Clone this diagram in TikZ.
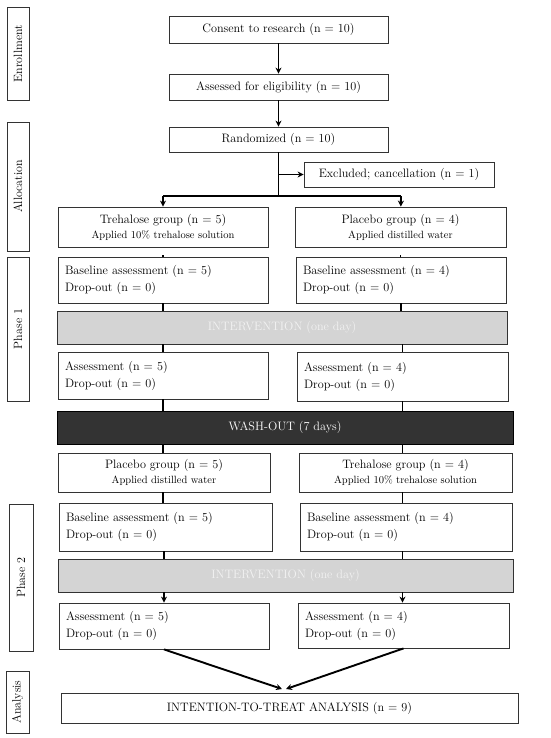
\documentclass[tikz,border=0pt]{standalone}
\usetikzlibrary{arrows.meta,calc}
\begin{document}
\begin{tikzpicture}[x=1pt,y=-1pt,
  box/.style={draw=black!80,line width=0.8pt,inner sep=0pt,font=\fontsize{12.2}{17}\selectfont},
  twoline/.style={box,align=left,inner xsep=7pt,text width=#1},
  grp/.style={box,align=center},
  small/.style={},
  band/.style={draw=black!80,line width=0.9pt,fill=black!17,text=black!5,font=\fontsize{12.2}{14}\selectfont},
  dark/.style={draw=black,line width=0.9pt,fill=black!80,text=white,font=\fontsize{12.2}{14}\selectfont},
  lab/.style={draw=black!80,line width=0.8pt,rotate=90,inner sep=0pt,font=\fontsize{12}{13}\selectfont},
  conn/.style={line width=1.9pt},
  arr/.style={conn,-{Stealth[length=6pt,width=6pt]}}]
\useasboundingbox (0,0) rectangle (550,738);
% stage labels
\node[lab,minimum width=93pt,minimum height=22pt] (lenr) at (18,53.5) {Enrollment};
\node[lab,minimum width=129pt,minimum height=22pt] (lall) at (18,186.5) {Allocation};
\node[lab,minimum width=144pt,minimum height=22pt] (lph1) at (18,329) {Phase 1};
\node[lab,minimum width=147pt,minimum height=24pt] (lph2) at (21,577.5) {Phase 2};
\node[lab,minimum width=62pt,minimum height=23pt] (lana) at (17.5,702) {Analysis};
% enrollment / allocation
\node[box,minimum width=219pt,minimum height=27pt] (cons) at (278.5,29.5) {Consent to research (n = 10)};
\node[box,minimum width=219pt,minimum height=26pt] (elig) at (278.5,87) {Assessed for eligibility (n = 10)};
\node[box,minimum width=219pt,minimum height=25pt] (rand) at (278.5,139.5) {Randomized (n = 10)};
\node[box,minimum width=190pt,minimum height=25pt] (excl) at (399,174.5) {Excluded; cancellation (n = 1)};
\node[grp,minimum width=210pt,minimum height=40pt] (tg1) at (163,227) {Trehalose group (n = 5)\\[-2pt]{\fontsize{10.5}{11}\selectfont Applied 10\% trehalose solution}};
\node[grp,minimum width=211pt,minimum height=40pt] (pg1) at (400.5,227) {Placebo group (n = 4)\\[-2pt]{\fontsize{10.5}{11}\selectfont Applied distilled water}};
% phase 1
\node[twoline=196pt,minimum height=46pt] (b1l) at (163,280) {Baseline assessment (n = 5)\\Drop-out (n = 0)};
\node[twoline=196pt,minimum height=46pt] (b1r) at (401,280) {Baseline assessment (n = 4)\\Drop-out (n = 0)};
\node[band,minimum width=450pt,minimum height=33pt] (int1) at (282,327.5) {INTERVENTION (one day)};
\node[twoline=196pt,minimum height=47pt] (a1l) at (163,375.5) {Assessment (n = 5)\\Drop-out (n = 0)};
\node[twoline=197pt,minimum height=49pt] (a1r) at (402.5,376.5) {Assessment (n = 4)\\Drop-out (n = 0)};
\node[dark,minimum width=456pt,minimum height=33pt] (wash) at (285,427.5) {WASH-OUT (7 days)};
% phase 2
\node[grp,minimum width=212pt,minimum height=39pt] (pg2) at (164,472.5) {Placebo group (n = 5)\\[-2pt]{\fontsize{10.5}{11}\selectfont Applied distilled water}};
\node[grp,minimum width=213pt,minimum height=39pt] (tg2) at (405.5,472.5) {Trehalose group (n = 4)\\[-2pt]{\fontsize{10.5}{11}\selectfont Applied 10\% trehalose solution}};
\node[twoline=199pt,minimum height=48pt] (b2l) at (165.5,527) {Baseline assessment (n = 5)\\Drop-out (n = 0)};
\node[twoline=198pt,minimum height=48pt] (b2r) at (406,527) {Baseline assessment (n = 4)\\Drop-out (n = 0)};
\node[band,minimum width=455pt,minimum height=33pt] (int2) at (285.5,575.5) {INTERVENTION (one day)};
\node[twoline=196pt,minimum height=46pt] (a2l) at (164,626) {Assessment (n = 5)\\Drop-out (n = 0)};
\node[twoline=197pt,minimum height=45pt] (a2r) at (403.5,625.5) {Assessment (n = 4)\\Drop-out (n = 0)};
\node[box,minimum width=457pt,minimum height=30pt] (itt) at (289.5,708) {INTENTION-TO-TREAT ANALYSIS (n = 9)};
% connectors
\coordinate (split) at (278.5,196);
\coordinate (exj) at (278.5,174.5);
\coordinate (cl) at (163,196);
\coordinate (cr) at (401,196);
\coordinate (meet) at (284,689);
\draw[arr] (cons) -- (elig);
\draw[arr] (elig) -- (rand);
\draw[conn] (rand) -- (split);
\draw[arr] (exj) -- (excl);
\draw[conn] (cl) -- (cr);
\draw[arr] (cl) -- (tg1);
\draw[arr] (cr) -- (pg1);
\draw[conn,shorten <=8pt] (tg1) -- (b1l);
\draw[conn,shorten <=8pt] (pg1) -- (pg1 |- b1r.north);
\draw[conn] (b1l) -- (int1.north -| b1l);
\draw[conn] (b1r.south) -- (int1.north -| b1r.south);
\draw[conn] (int1.south -| a1l.north) -- (a1l);
\draw[conn] (int1.south -| a1r.north) -- (a1r);
\draw[conn] (a1l) -- (wash.north -| a1l);
\draw[conn] (a1r.south) -- (wash.north -| a1r.south);
\draw[conn] (wash.south -| a1l) -- (pg2.north -| a1l);
\draw[conn] (wash.south -| a1r) -- (tg2.north -| a1r);
\draw[conn] (pg2.south -| a1l) -- (b2l.north -| a1l);
\draw[conn] (tg2.south -| a1r) -- (b2r.north -| a1r);
\draw[conn] (b2l.south -| a2l) -- (int2.north -| a2l);
\draw[conn] (b2r.south -| a1r) -- (int2.north -| a1r);
\draw[arr] (int2.south -| a2l) -- (a2l);
\draw[arr] (int2.south -| a1r) -- (a1r |- a2r.north);
\draw[arr] (a2l.south) -- ([xshift=-2pt]meet);
\draw[arr] (a2r.south) -- ([xshift=2pt]meet);
\end{tikzpicture}
\end{document}
